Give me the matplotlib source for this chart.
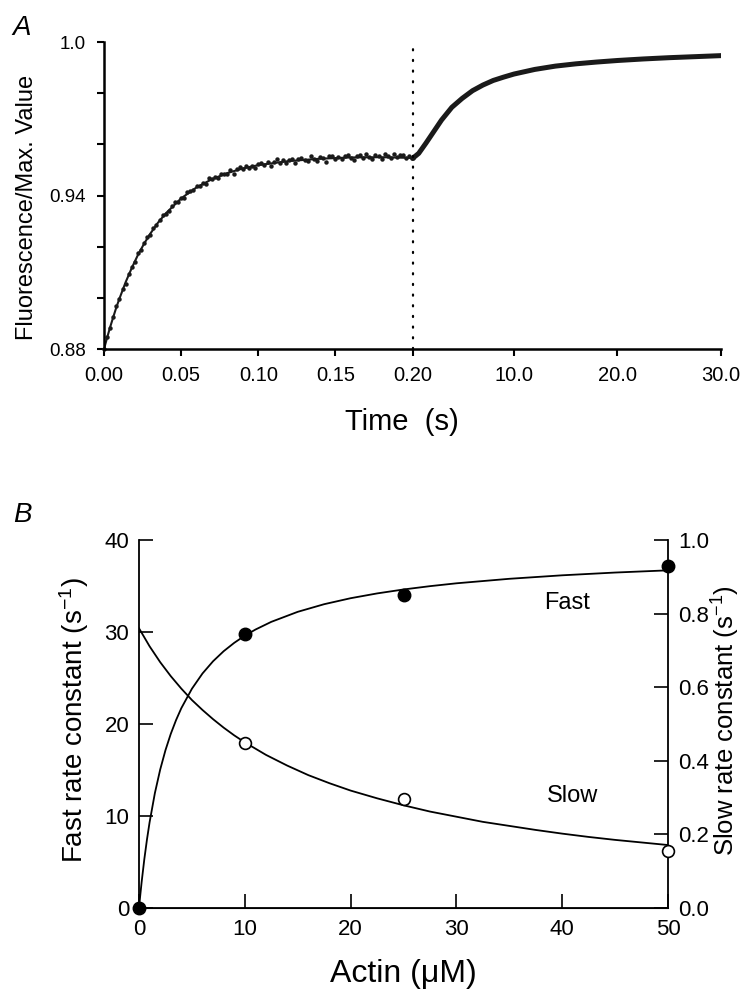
import matplotlib
matplotlib.use("Agg")
import matplotlib.pyplot as plt
import numpy as np

plt.rcParams['font.family'] = ['Liberation Sans', 'DejaVu Sans']
plt.rcParams['mathtext.fontset'] = 'custom'
plt.rcParams['mathtext.rm'] = 'Liberation Sans'
plt.rcParams['mathtext.it'] = 'Liberation Sans:italic'

# ---- panel A data: fluorescence trace (fast phase sampled every 2 ms) ----
t_fast = np.arange(101) * 0.002
f_fast = [0.8800, 0.8847, 0.8882, 0.8927, 0.8968, 0.8994, 0.9034, 0.9055, 0.9092, 0.9120,
          0.9141, 0.9174, 0.9186, 0.9213, 0.9237, 0.9244, 0.9272, 0.9284, 0.9305, 0.9324,
          0.9327, 0.9339, 0.9358, 0.9374, 0.9375, 0.9392, 0.9390, 0.9413, 0.9418, 0.9422,
          0.9439, 0.9438, 0.9450, 0.9447, 0.9469, 0.9463, 0.9473, 0.9467, 0.9485, 0.9486,
          0.9484, 0.9498, 0.9485, 0.9502, 0.9510, 0.9504, 0.9517, 0.9506, 0.9515, 0.9509,
          0.9523, 0.9529, 0.9520, 0.9531, 0.9517, 0.9530, 0.9541, 0.9527, 0.9538, 0.9528,
          0.9538, 0.9543, 0.9527, 0.9542, 0.9548, 0.9538, 0.9535, 0.9554, 0.9543, 0.9535,
          0.9549, 0.9547, 0.9532, 0.9553, 0.9556, 0.9543, 0.9549, 0.9541, 0.9554, 0.9560,
          0.9546, 0.9540, 0.9554, 0.9558, 0.9545, 0.9564, 0.9549, 0.9544, 0.9557, 0.9555,
          0.9541, 0.9561, 0.9553, 0.9546, 0.9563, 0.9549, 0.9558, 0.9560, 0.9545, 0.9555,
          0.9547]

# fitted curve for the fast phase
t_fit1 = [0, 0.002, 0.004, 0.006, 0.008, 0.010, 0.014, 0.018, 0.022, 0.026, 0.030, 0.035,
          0.040, 0.050, 0.060, 0.070, 0.080, 0.090, 0.100, 0.120, 0.140, 0.160, 0.180, 0.200]
f_fit1 = [0.8800, 0.8844, 0.8886, 0.8925, 0.8963, 0.8997, 0.9061, 0.9117, 0.9168, 0.9212,
          0.9251, 0.9294, 0.9330, 0.9389, 0.9432, 0.9464, 0.9488, 0.9506, 0.9519, 0.9535,
          0.9544, 0.9549, 0.9550, 0.9547]

# slow phase (dense trace, seconds)
t_slow = [0.2, 0.8, 1.5, 2.0, 2.5, 3.0, 3.5, 4.0, 5.0, 6.0, 7.0, 8.0, 9.0, 10.0,
          12.0, 14.0, 16.0, 18.0, 20.0, 22.5, 25.0, 27.5, 30.0]
f_slow = [0.9545, 0.9565, 0.9605, 0.9635, 0.9665, 0.9695, 0.9720, 0.9745, 0.9780, 0.9810,
          0.9832, 0.9850, 0.9863, 0.9875, 0.9893, 0.9906, 0.9915, 0.9922, 0.9928, 0.9934,
          0.9939, 0.9943, 0.9947]

time_ticks = [0.0, 0.05, 0.10, 0.15, 0.20, 10.0, 20.0, 30.0]
time_labels = ['0.00', '0.05', '0.10', '0.15', '0.20', '10.0', '20.0', '30.0']

# ---- panel B data ----
actin = [0, 10, 25, 50]
fast_k = [0.0, 29.8, 34.0, 37.2]
slow_k = [0.448, 0.296, 0.156]
actin_slow = [10, 25, 50]

fit_x_fast = [0, 0.1, 0.25, 0.5, 0.75, 1, 1.5, 2, 2.5, 3, 3.5, 4, 5, 6, 7, 8, 9, 10, 11,
              12.5, 15, 17.5, 20, 22.5, 25, 27.5, 30, 35, 40, 45, 50]
fit_y_fast = [0, 1.19, 2.84, 5.29, 7.43, 9.32, 12.49, 15.04, 17.15, 18.92, 20.42, 21.72,
              23.83, 25.49, 26.82, 27.91, 28.82, 29.60, 30.26, 31.10, 32.19, 33.02, 33.67,
              34.19, 34.62, 34.98, 35.29, 35.78, 36.16, 36.46, 36.70]
fit_x_slow = [0, 1, 2, 3, 4, 5, 6, 7, 8, 9, 10, 12, 14, 16, 18, 20, 22.5, 25, 27.5, 30,
              32.5, 35, 37.5, 40, 42.5, 45, 47.5, 50]
fit_y_slow = [0.760, 0.711, 0.668, 0.630, 0.596, 0.565, 0.538, 0.513, 0.490, 0.469, 0.450,
              0.416, 0.387, 0.361, 0.339, 0.319, 0.298, 0.279, 0.262, 0.248, 0.234, 0.223,
              0.212, 0.202, 0.193, 0.185, 0.178, 0.171]


def fwd(t):
    t = np.asarray(t, dtype=float)
    return np.where(t <= 0.2, t / 0.2, 1 + (t - 0.2) / 29.8)


def inv(u):
    u = np.asarray(u, dtype=float)
    return np.where(u <= 1, u * 0.2, 0.2 + (u - 1) * 29.8)


fig = plt.figure(figsize=(7.45, 9.97), dpi=100)

# ---------------- panel A ----------------
axA = fig.add_axes([0.1396, 0.6499, 0.8282, 0.3079])
axA.set_xscale('function', functions=(fwd, inv))
axA.set_xlim(0, 30)
axA.set_ylim(0.88, 1.0)

axA.plot(t_fast, f_fast, 'o', ms=3.2, color='#1a1a1a', mec='none', clip_on=False)
axA.plot(t_fit1, f_fit1, '-', lw=1.5, color='#1a1a1a')
axA.plot(t_slow, f_slow, '-', lw=3.6, color='#1a1a1a', solid_capstyle='round')
axA.axvline(0.2, ymin=0, ymax=0.98, color='k', lw=1.6, ls=(0, (0.5, 4.3)),
            dash_capstyle='round')

axA.set_xticks(time_ticks)
axA.set_xticklabels(time_labels)
axA.set_yticks([0.88, 0.90, 0.92, 0.94, 0.96, 0.98, 1.0])
axA.set_yticklabels(['0.88', '', '', '0.94', '', '', '1.0'])
axA.xaxis.set_minor_locator(plt.NullLocator())
axA.tick_params(axis='x', direction='out', length=5, width=1.5, labelsize=14.5, pad=7)
axA.tick_params(axis='y', direction='out', length=5, width=1.5, labelsize=13.5, pad=8)
for s in ['top', 'right']:
    axA.spines[s].set_visible(False)
for s in ['left', 'bottom']:
    axA.spines[s].set_linewidth(1.8)

axA.set_xlabel('Time  (s)', fontsize=21)
axA.xaxis.set_label_coords(0.483, -0.192)
axA.set_ylabel('Fluorescence/Max. Value', fontsize=17)
axA.yaxis.set_label_coords(-0.107, 0.46)

fig.text(12 / 745, 1 - 35 / 997, 'A', fontsize=20, style='italic', ha='left', va='baseline')

# ---------------- panel B ----------------
axB = fig.add_axes([0.1866, 0.0893, 0.7101, 0.3691])
axB2 = axB.twinx()

axB.set_xlim(0, 50)
axB.set_ylim(0, 40)
axB2.set_ylim(0, 1.0)

axB.plot(fit_x_fast, fit_y_fast, 'k-', lw=1.3)
axB2.plot(fit_x_slow, fit_y_slow, 'k-', lw=1.3)
axB.plot(actin, fast_k, 'o', ms=9, color='k', clip_on=False, zorder=5)
axB2.plot(actin_slow, slow_k, 'o', ms=8.5, mfc='white', mec='k', mew=1.2,
          clip_on=False, zorder=5)

axB.text(40.5, 33.2, 'Fast', fontsize=17, ha='center', va='center')
axB.text(41.0, 12.2, 'Slow', fontsize=17, ha='center', va='center')

axB.set_xticks([0, 10, 20, 30, 40, 50])
axB.set_yticks([0, 10, 20, 30, 40])
axB2.set_yticks([0.0, 0.2, 0.4, 0.6, 0.8, 1.0])
axB2.set_yticklabels(['0.0', '0.2', '0.4', '0.6', '0.8', '1.0'])
axB.tick_params(direction='in', length=10, width=1.2, labelsize=16, pad=7)
axB.tick_params(axis='x', pad=8)
axB2.tick_params(direction='in', length=10, width=1.2, labelsize=16, pad=7)

axB.spines['top'].set_visible(False)
axB.spines['right'].set_visible(False)
axB2.spines['top'].set_visible(False)
axB2.spines['left'].set_visible(False)
for s in ['left', 'bottom']:
    axB.spines[s].set_linewidth(1.3)
axB2.spines['right'].set_linewidth(1.3)

axB.set_xlabel('Actin (\u03bcM)', fontsize=23)
axB.xaxis.set_label_coords(0.5, -0.1386)
axB.set_ylabel('Fast rate constant (s$^{-1}$)', fontsize=20)
axB.yaxis.set_label_coords(-0.0907, 0.511)
axB2.set_ylabel('Slow rate constant (s$^{-1}$)', fontsize=18.5)
axB2.yaxis.set_label_coords(1.078, 0.51)

fig.text(13 / 745, 1 - 522 / 997, 'B', fontsize=20, style='italic', ha='left', va='baseline')

fig.savefig('out.png', dpi=100)
